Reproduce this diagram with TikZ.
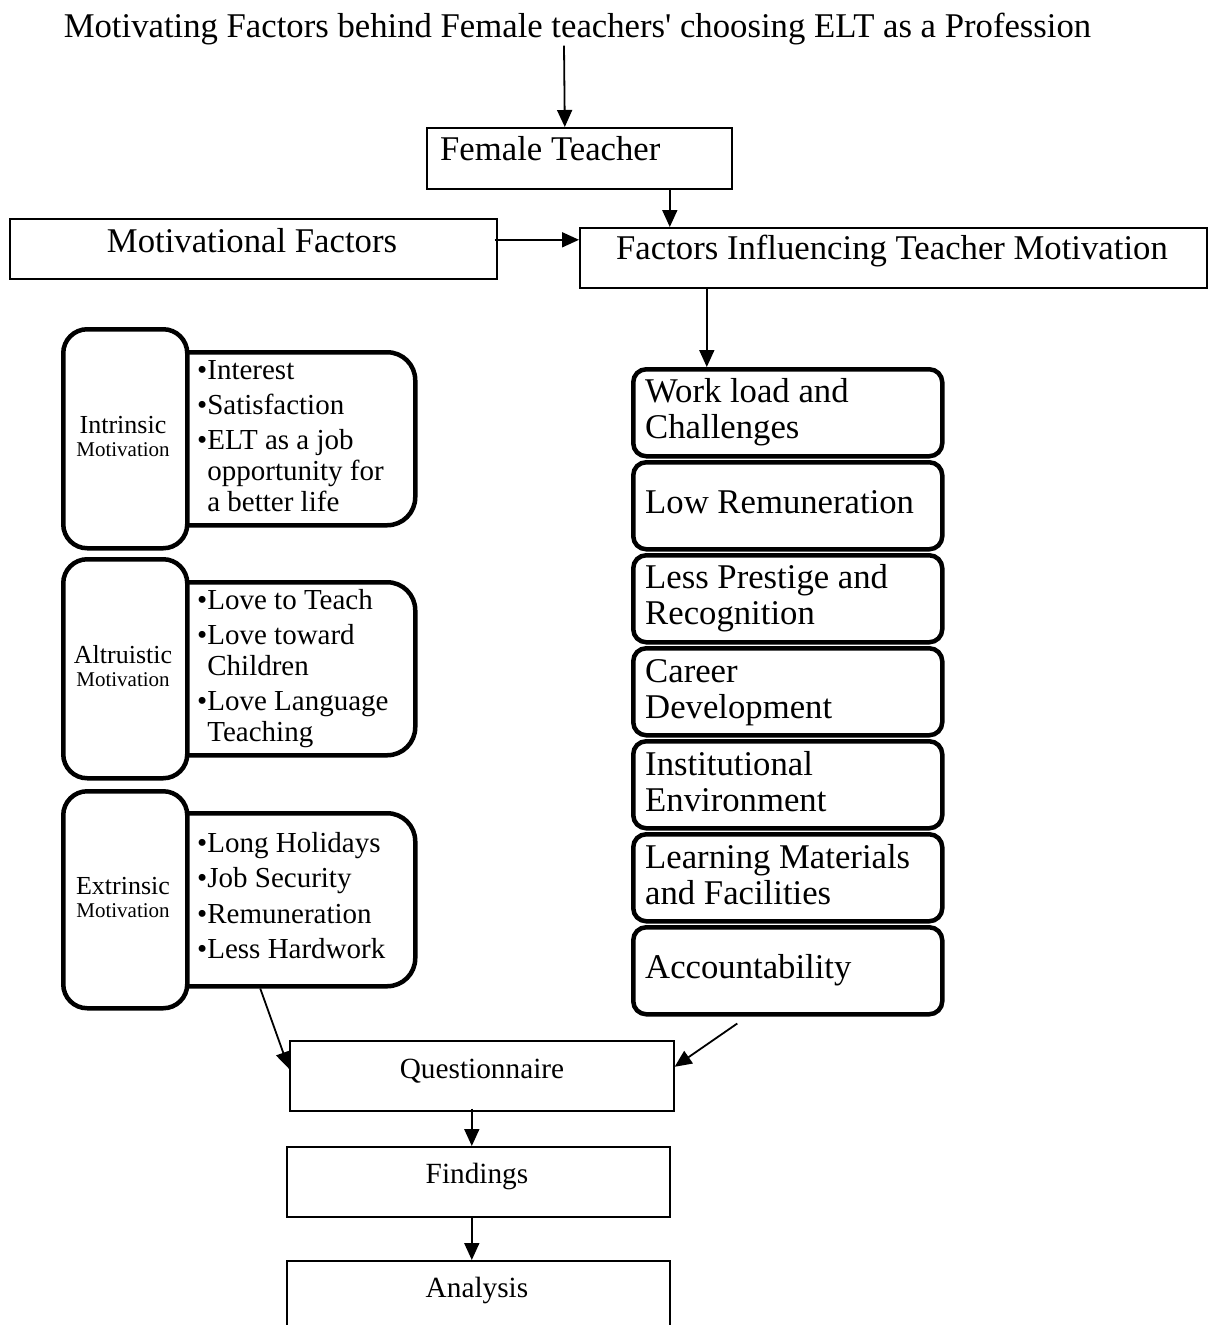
\documentclass[tikz,border=0pt]{standalone}
\usepackage{fontspec}
\setmainfont{Liberation Serif}[Ligatures=TeXOff]
\usetikzlibrary{arrows.meta,calc}
\begin{document}
\begin{tikzpicture}[x=1pt,y=-1pt,
  thinbox/.style={draw, line width=1.6pt, inner sep=0pt, anchor=north west},
  thickbox/.style={draw, line width=4.5pt, rounded corners=13pt, inner sep=0pt, anchor=north west, fill=white},
  arr/.style={line width=1.8pt, -{Triangle[length=17pt,width=15pt]}},
  bigtxt/.style={inner sep=0pt, font=\fontsize{34.7}{36}\selectfont},
  midtxt/.style={inner sep=0pt, font=\fontsize{29}{31}\selectfont},
  lowtxt/.style={inner sep=0pt, font=\fontsize{29.3}{32}\selectfont},
  lab1/.style={inner sep=0pt, anchor=base, font=\fontsize{26}{28}\selectfont},
  lab2/.style={inner sep=0pt, anchor=base, font=\fontsize{21}{24}\selectfont},
]
\useasboundingbox (0,0) rectangle (1211,1325);
\fill[white] (0,0) rectangle (1211,1325);

% title
\node[bigtxt, anchor=base] (title) at (577.5,37) {Motivating Factors behind Female teachers' choosing ELT as a Profession};

% top boxes
\node[thinbox, minimum width=305pt, minimum height=61pt] (ft) at (426,127) {};
\node[bigtxt, anchor=base west] (ftt) at (440,160) {Female Teacher};
\node[thinbox, minimum width=487pt, minimum height=60pt] (mf) at (9,218) {};
\node[bigtxt, anchor=base] (mft) at (252,252) {Motivational Factors};
\node[thinbox, minimum width=627pt, minimum height=60pt] (fit) at (579,227) {};
\node[bigtxt, anchor=base] (fitt) at (892,259) {Factors Influencing Teacher Motivation};

% right stack
\node[thickbox, minimum width=309pt, minimum height=87pt] (s1) at (631,367) {};
\node[thickbox, minimum width=309pt, minimum height=87pt] (s2) at (631,460) {};
\node[thickbox, minimum width=309pt, minimum height=87pt] (s3) at (631,553) {};
\node[thickbox, minimum width=309pt, minimum height=87pt] (s4) at (631,646) {};
\node[thickbox, minimum width=309pt, minimum height=87pt] (s5) at (631,739) {};
\node[thickbox, minimum width=309pt, minimum height=87pt] (s6) at (631,832) {};
\node[thickbox, minimum width=309pt, minimum height=87pt] (s7) at (631,925) {};
\node[bigtxt, anchor=base west] (s1t) at (645,402) {\begin{tabular}[t]{@{}l@{}}Work load and\\Challenges\end{tabular}};
\node[bigtxt, anchor=base west] (s2t) at (645,513) {Low Remuneration};
\node[bigtxt, anchor=base west] (s3t) at (645,588) {\begin{tabular}[t]{@{}l@{}}Less Prestige and\\Recognition\end{tabular}};
\node[bigtxt, anchor=base west] (s4t) at (645,682) {\begin{tabular}[t]{@{}l@{}}Career\\Development\end{tabular}};
\node[bigtxt, anchor=base west] (s5t) at (645,775) {\begin{tabular}[t]{@{}l@{}}Institutional\\Environment\end{tabular}};
\node[bigtxt, anchor=base west] (s6t) at (645,868) {\begin{tabular}[t]{@{}l@{}}Learning Materials\\and Facilities\end{tabular}};
\node[bigtxt, anchor=base west] (s7t) at (645,978) {Accountability};

% left: intrinsic
\node[thickbox, rounded corners=28pt, minimum width=293pt, minimum height=173pt] (ib) at (120,350) {};
\node[thickbox, rounded corners=24pt, minimum width=124pt, minimum height=219pt] (il) at (61,327) {};
\node[lab1] (il1) at (123,433) {Intrinsic};
\node[lab2] (il2) at (123,456) {Motivation};
\node[midtxt, anchor=base west] (ibt) at (197,379) {\begin{tabular}[t]{@{}l@{}l@{}}•&Interest\\[4pt]•&Satisfaction\\[4pt]•&ELT as a job\\&opportunity for\\&a better life\end{tabular}};

% left: altruistic
\node[thickbox, rounded corners=28pt, minimum width=293pt, minimum height=173pt] (ab) at (120,580) {};
\node[thickbox, rounded corners=24pt, minimum width=124pt, minimum height=219pt] (al) at (61,557) {};
\node[lab1] (al1) at (123,663) {Altruistic};
\node[lab2] (al2) at (123,686) {Motivation};
\node[midtxt, anchor=base west] (abt) at (197,609) {\begin{tabular}[t]{@{}l@{}l@{}}•&Love to Teach\\[4pt]•&Love toward\\&Children\\[4pt]•&Love Language\\&Teaching\end{tabular}};

% left: extrinsic
\node[thickbox, rounded corners=28pt, minimum width=293pt, minimum height=173pt] (eb) at (120,811) {};
\node[thickbox, rounded corners=24pt, minimum width=124pt, minimum height=217pt] (el) at (61,789) {};
\node[lab1] (el1) at (123,894) {Extrinsic};
\node[lab2] (el2) at (123,917) {Motivation};
\node[midtxt, anchor=base west] (ebt) at (197,852) {\begin{tabular}[t]{@{}l@{}l@{}}•&Long Holidays\\[4.5pt]•&Job Security\\[4.5pt]•&Remuneration\\[4.5pt]•&Less Hardwork\end{tabular}};

% bottom
\node[thinbox, minimum width=384pt, minimum height=70pt] (q) at (289,1040) {};
\node[lowtxt, anchor=base] (qt) at (482,1078) {Questionnaire};
\node[thinbox, minimum width=383pt, minimum height=70pt] (f) at (286,1146) {};
\node[lowtxt, anchor=base] (fnt) at (477,1183) {Findings};
\node[thinbox, minimum width=383pt, minimum height=90pt] (an) at (286,1260) {};
\node[lowtxt, anchor=base] (ant) at (477,1297) {Analysis};

% connectors
\draw[arr] ([xshift=-13.5pt,yshift=-1pt]title.south) -- ([xshift=-14.5pt]ft.north);
\coordinate (c1) at ([xshift=90.5pt]ft.south);
\draw[arr] (c1) -- (c1 |- fit.north);
\coordinate (c2) at ([yshift=9pt]mf.east);
\draw[arr] ([xshift=-3pt]c2) -- (c2 -| fit.west);
\coordinate (c3) at ([xshift=-186.5pt]fit.south);
\draw[arr] (c3) -- (c3 |- s1.north);
\draw[arr] ([xshift=-8.5pt]eb.south) -- ([yshift=7pt]q.west);
\draw[arr] ([xshift=-50.5pt,yshift=-7pt]s7.south) -- ([yshift=9pt]q.east);
\coordinate (c4) at ([xshift=-10pt]q.south);
\draw[arr] ([yshift=3pt]c4) -- (c4 |- f.north);
\coordinate (c5) at ([xshift=-6.5pt]f.south);
\draw[arr] (c5) -- (c5 |- an.north);
\end{tikzpicture}
\end{document}
